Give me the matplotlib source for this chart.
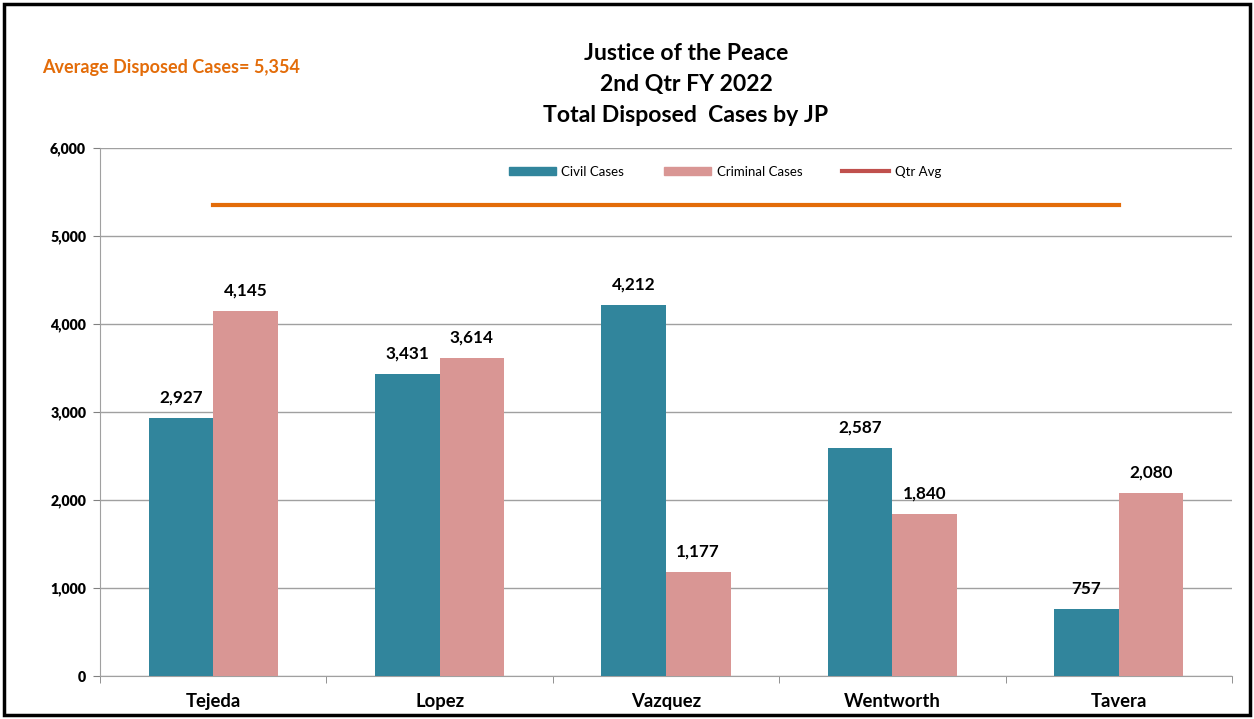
import matplotlib.pyplot as plt
import numpy as np
from matplotlib.lines import Line2D
from matplotlib.patches import Patch, Rectangle

# data
judges = ["Tejeda", "Lopez", "Vazquez", "Wentworth", "Tavera"]
civil = [2927, 3431, 4212, 2587, 757]
criminal = [4145, 3614, 1177, 1840, 2080]
qtr_avg = 5354

civil_color = "#31859C"
criminal_color = "#D99694"
avg_color = "#E36C09"

plt.rcParams["font.family"] = ["Lato", "DejaVu Sans"]

fig = plt.figure(figsize=(12.54, 7.19), dpi=100)
ax = fig.add_axes([100 / 1254, 1 - 676 / 719, 1132 / 1254, 528 / 719])

x = np.arange(len(judges))
w = 0.285
b1 = ax.bar(x - w / 2, civil, w, color=civil_color, zorder=3)
b2 = ax.bar(x + w / 2, criminal, w, color=criminal_color, zorder=3)
ax.plot([x[0], x[-1]], [qtr_avg, qtr_avg], color=avg_color, lw=3, zorder=4)

for bars, vals in [(b1, civil), (b2, criminal)]:
    for r, v in zip(bars, vals):
        ax.annotate(f"{v:,}", (r.get_x() + r.get_width() / 2, v), xytext=(0, 9),
                    textcoords="offset points", ha="center", va="bottom",
                    fontsize=12.3, fontweight="bold")

ax.set_xlim(-0.5, len(judges) - 0.5)
ax.set_ylim(0, 6000)
ax.set_yticks(range(0, 6001, 1000))
ax.yaxis.set_major_formatter(plt.FuncFormatter(lambda v, p: f"{int(v):,}"))
ax.set_xticks(x)
ax.set_xticklabels(judges, fontsize=13.3, fontweight="bold")
ax.set_xticks(np.arange(-0.5, len(judges)), minor=True)
ax.tick_params(axis="x", which="major", length=0, pad=12)
ax.tick_params(axis="x", which="minor", length=5, color="#808080", direction="out")
ax.tick_params(axis="y", length=5, color="#808080", labelsize=10.2, pad=5)
for t in ax.get_yticklabels():
    t.set_fontweight("heavy")
ax.grid(axis="y", color="#A0A0A0", lw=1, zorder=0)
for s in ["top", "right"]:
    ax.spines[s].set_visible(False)
ax.spines["left"].set_color("#A0A0A0")
ax.spines["bottom"].set_color("#A0A0A0")

handles = [Patch(color=civil_color), Patch(color=criminal_color),
           Line2D([], [], color="#C0504D", lw=3)]
ax.legend(handles, ["Civil Cases", "Criminal Cases", "Qtr Avg"], ncol=3,
          loc="center", bbox_to_anchor=(0.552, 0.955), frameon=False,
          fontsize=9.5, handlelength=3.6, handleheight=0.55, columnspacing=3.0,
          handletextpad=0.4)

fig.text(686 / 1254, 1 - 54 / 719, "Justice of the Peace", ha="center", va="center",
         fontsize=16.6, fontweight="bold")
fig.text(686 / 1254, 1 - 84 / 719, "2nd Qtr FY 2022", ha="center", va="center",
         fontsize=16.6, fontweight="bold")
fig.text(686 / 1254, 1 - 116 / 719, "Total Disposed  Cases by JP", ha="center", va="center",
         fontsize=16.6, fontweight="bold")
fig.text(42 / 1254, 1 - 67 / 719, "Average Disposed Cases= 5,354", ha="left", va="center",
         fontsize=13, fontweight="bold", color=avg_color)

fig.patches.append(Rectangle((4 / 1254, 4 / 719), 1246 / 1254, 711 / 719,
                             transform=fig.transFigure, fill=False, ec="black", lw=2.5))

fig.savefig("out.png", dpi=100)
